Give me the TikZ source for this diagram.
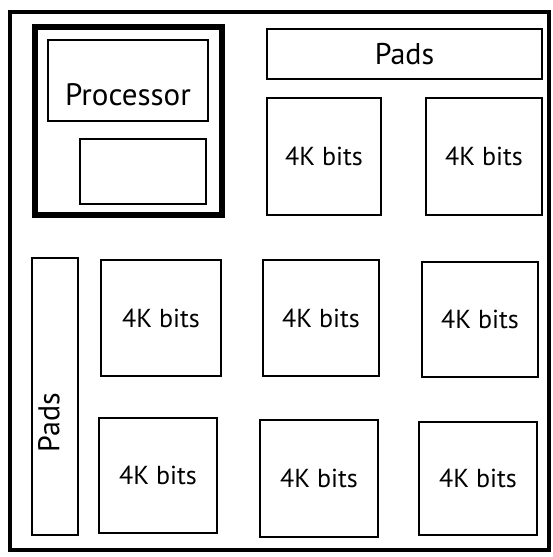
\documentclass[tikz,border=0pt]{standalone}
\usepackage{fontspec}
\setmainfont{PT Sans}
\begin{document}
\begin{tikzpicture}[x=1pt,y=-1pt,
  box/.style={draw=black, line width=2.5pt, inner sep=0pt, fill=white, font=\fontsize{26}{30}\selectfont},
  lbl/.style={inner sep=0pt, font=\fontsize{30}{34}\selectfont}]
\useasboundingbox[fill=white] (0,0) rectangle (553,557);
\node[box, line width=3.5pt, minimum width=539pt, minimum height=538pt] (outer) at (279.5,281) {};
\node[box, line width=5.5pt, minimum width=187pt, minimum height=188pt] (procouter) at (128.5,121) {};
\node[box, minimum width=160pt, minimum height=81pt] (proc) at (128,80.5) {};
\node[lbl, font=\fontsize{31}{34}\selectfont] (proclbl) at ([yshift=-14pt]proc.center) {Processor};
\node[box, minimum width=126pt, minimum height=65pt] (cache) at (143,171.5) {};
\node[box, font=\fontsize{30}{34}\selectfont, minimum width=275pt, minimum height=50pt] (padsT) at (404.5,54) {Pads};
\node[box, minimum width=114pt, minimum height=117pt] (m1) at (324,156.5) {4K bits};
\node[box, minimum width=116pt, minimum height=117pt] (m2) at (484,156.5) {4K bits};
\node[box, minimum width=46pt, minimum height=277pt] (padsL) at (55,396.5) {};
\node[lbl, rotate=90] (padsLlbl) at ([yshift=-26pt,xshift=-6pt]padsL.center) {Pads};
\node[box, minimum width=120pt, minimum height=116pt] (m3) at (161,318) {4K bits};
\node[box, minimum width=116pt, minimum height=116pt] (m4) at (321,318) {4K bits};
\node[box, minimum width=116pt, minimum height=115pt] (m5) at (480,319.5) {4K bits};
\node[box, minimum width=118pt, minimum height=115pt] (m6) at (158,475.5) {4K bits};
\node[box, minimum width=118pt, minimum height=117pt] (m7) at (319,478.5) {4K bits};
\node[box, minimum width=118pt, minimum height=113pt] (m8) at (478,478.5) {4K bits};
\end{tikzpicture}
\end{document}
